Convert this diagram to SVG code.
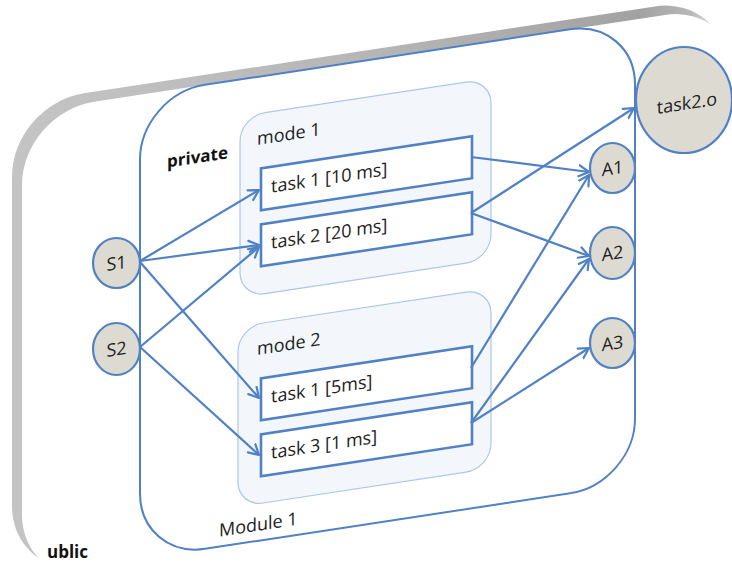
<svg xmlns="http://www.w3.org/2000/svg" width="732" height="563" viewBox="0 0 732 563">
  <defs>
    <linearGradient id="edgeGrad" x1="0" y1="0" x2="1" y2="0">
      <stop offset="0" stop-color="#c4c4c4"/>
      <stop offset="0.5" stop-color="#b6b6b6"/>
      <stop offset="0.88" stop-color="#a2a2a2"/>
      <stop offset="0.95" stop-color="#b8b8b8"/>
      <stop offset="1" stop-color="#f4f4f4"/>
    </linearGradient>
    <marker id="arrow" markerUnits="userSpaceOnUse" markerWidth="14" markerHeight="14" refX="11" refY="7" orient="auto">
      <path d="M1,1.5 L11,7 L1,12.5" fill="none" stroke="#4f81c4" stroke-width="2.2" stroke-linecap="round" stroke-linejoin="round"/>
    </marker>
    <style>
      .module { fill: none; stroke: #4f81c4; stroke-width: 2; }
      .mode { fill: #f3f6fb; stroke: #aec6e8; stroke-width: 1.2; }
      .task { fill: #ffffff; stroke: #4f81c4; stroke-width: 2.6; }
      .port { fill: #dddad2; stroke: #4f81c4; stroke-width: 2.2; }
      .edge { fill: none; stroke: #4f81c4; stroke-width: 2.2; marker-end: url(#arrow); }
      .lbl { font-family: "Open Sans", "Noto Sans", sans-serif; font-size: 18px; fill: #222222; }
      .bold { font-family: "Open Sans", "Noto Sans", sans-serif; font-size: 17px; font-weight: bold; fill: #111111; }
      .mid { text-anchor: middle; }
    </style>
  </defs>

  <!-- public layer: extruded card, seen in perspective (skewed plane) -->
  <g id="public" transform="matrix(1,-0.152,0,1,0,0)">
    <rect x="12" y="106" width="715" height="474" rx="72" fill="url(#edgeGrad)"/>
    <rect x="22" y="116" width="715" height="474" rx="72" fill="#ffffff"/>
  </g>
  <text class="bold" x="47" y="558">ublic</text>

  <!-- Module 1 and its contents, drawn on the same skewed plane -->
  <g transform="matrix(1,-0.152,0,1,0,0)">
    <g id="module1">
      <rect class="module" x="140" y="116" width="495" height="464" rx="65"/>
      <text class="bold" x="167" y="193">private</text>
      <text class="lbl" x="219" y="570">Module 1</text>
    </g>
    <g id="mode1">
      <rect class="mode" x="240" y="153" width="251" height="181" rx="25"/>
      <text class="lbl" x="257" y="184">mode 1</text>
    </g>
    <g id="mode2">
      <rect class="mode" x="238" y="363" width="253" height="180" rx="25"/>
      <text class="lbl" x="257" y="394">mode 2</text>
    </g>
    <g id="m1-task1">
      <rect class="task" x="261" y="208" width="211" height="42"/>
      <text class="lbl" x="271" y="234">task 1 [10 ms]</text>
    </g>
    <g id="m1-task2">
      <rect class="task" x="261" y="264" width="211" height="42"/>
      <text class="lbl" x="271" y="290">task 2 [20 ms]</text>
    </g>
    <g id="m2-task1">
      <rect class="task" x="261" y="418" width="211" height="42"/>
      <text class="lbl" x="271" y="444">task 1 [5ms]</text>
    </g>
    <g id="m2-task3">
      <rect class="task" x="261" y="474" width="211" height="42"/>
      <text class="lbl" x="271" y="500">task 3 [1 ms]</text>
    </g>
  </g>

  <!-- connectors -->
  <g id="connectors">
    <line class="edge" x1="140" y1="261" x2="259" y2="190"/>
    <line class="edge" x1="140" y1="261" x2="259" y2="245"/>
    <line class="edge" x1="140" y1="262" x2="259" y2="398"/>
    <line class="edge" x1="140" y1="347" x2="259" y2="247"/>
    <line class="edge" x1="140" y1="347" x2="259" y2="455"/>
    <line class="edge" x1="471" y1="157" x2="589" y2="172"/>
    <line class="edge" x1="471" y1="213" x2="634" y2="108"/>
    <line class="edge" x1="471" y1="213" x2="589" y2="256"/>
    <line class="edge" x1="471" y1="368" x2="589" y2="175"/>
    <line class="edge" x1="471" y1="423" x2="589" y2="259"/>
    <line class="edge" x1="471" y1="423" x2="589" y2="348"/>
  </g>

  <!-- ports -->
  <g id="S1">
    <ellipse class="port" cx="116.5" cy="263" rx="23.5" ry="25"/>
    <text class="lbl mid" transform="translate(116.5,263) skewY(-8.6)" y="6.5">S1</text>
  </g>
  <g id="S2">
    <ellipse class="port" cx="116.5" cy="349" rx="23.5" ry="26"/>
    <text class="lbl mid" transform="translate(116.5,349) skewY(-8.6)" y="6.5">S2</text>
  </g>
  <g id="A1">
    <ellipse class="port" cx="612.5" cy="168" rx="22.5" ry="25"/>
    <text class="lbl mid" transform="translate(612.5,168) skewY(-8.6)" y="6.5">A1</text>
  </g>
  <g id="A2">
    <ellipse class="port" cx="612.5" cy="253" rx="22.5" ry="26"/>
    <text class="lbl mid" transform="translate(612.5,253) skewY(-8.6)" y="6.5">A2</text>
  </g>
  <g id="A3">
    <ellipse class="port" cx="612.5" cy="343" rx="22.5" ry="25"/>
    <text class="lbl mid" transform="translate(612.5,343) skewY(-8.6)" y="6.5">A3</text>
  </g>
  <g id="task2o">
    <ellipse class="port" cx="684" cy="100" rx="48" ry="53"/>
    <text class="lbl mid" transform="translate(687,103) skewY(-8.6)" y="6.5">task2.o</text>
  </g>
</svg>
